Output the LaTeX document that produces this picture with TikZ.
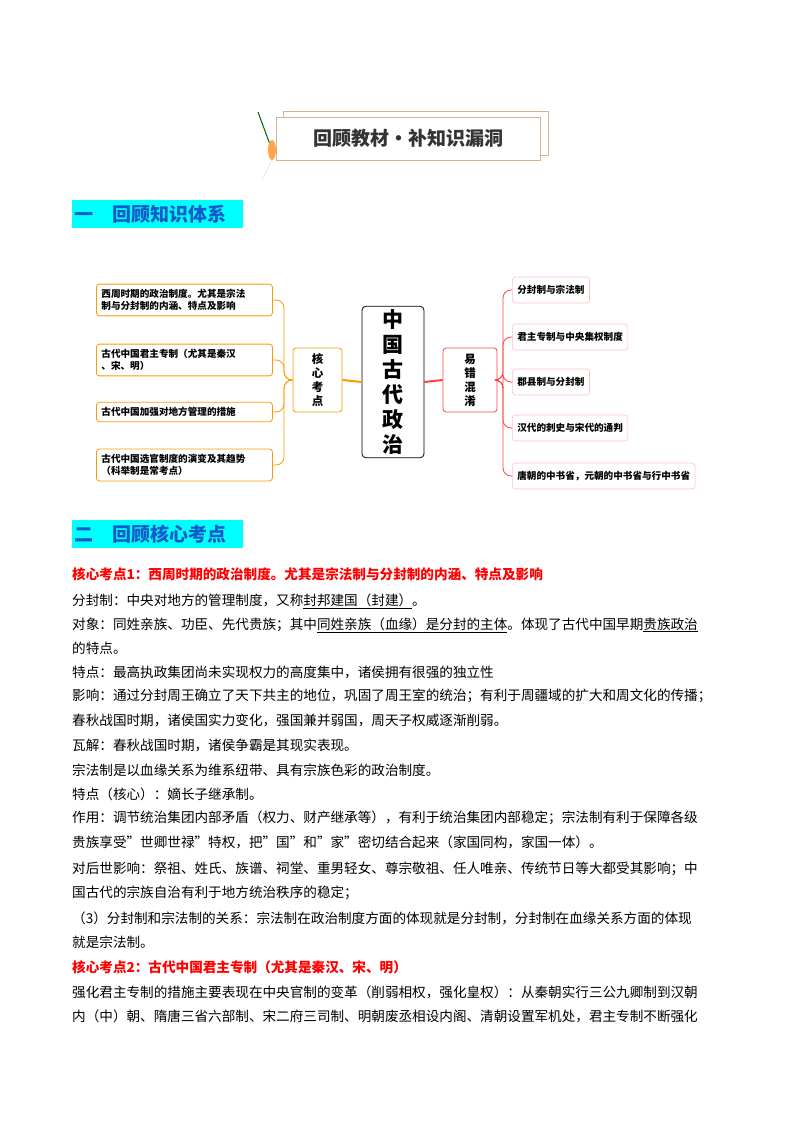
\documentclass[tikz,border=0pt]{standalone}
\usepackage{fontspec}
\setmainfont{Noto Sans CJK SC}
\definecolor{aqua}{RGB}{0,255,255}
\definecolor{secblue}{RGB}{20,90,200}
\begin{document}
\begin{tikzpicture}[x=1pt,y=-1pt,
 lbox/.style={draw=orange!80!yellow,rounded corners=3pt,line width=0.8pt,font=\fontsize{9.6}{12.5}\selectfont\bfseries,align=left,anchor=west,inner sep=5pt},
 rbox/.style={draw=red!25,rounded corners=3pt,line width=0.6pt,font=\fontsize{9.6}{11}\selectfont\bfseries,anchor=west,inner sep=5pt,minimum height=26pt},
 body/.style={anchor=west,font=\fontsize{13.6}{16}\selectfont,inner sep=0pt},
 redh/.style={anchor=west,font=\fontsize{13.6}{16}\selectfont\bfseries,text=red,inner sep=0pt},
 sec/.style={anchor=west,fill=aqua,text=secblue,font=\fontsize{19}{22}\selectfont\bfseries,inner sep=2pt,minimum height=28pt,text width=167pt},
 oline/.style={draw=orange!80!yellow,line width=0.8pt,rounded corners=8pt},
 rline/.style={draw=red!75,line width=0.8pt,rounded corners=8pt}]
\useasboundingbox (0,0) rectangle (800,1132);
% header
\draw[draw=brown!60,line width=0.8pt,fill=white] (283,111) rectangle (548,155);
\draw[draw=brown!60,line width=0.8pt,fill=white] (276,117) rectangle (540,160);
\node[font=\fontsize{19}{22}\selectfont\bfseries,text=black!80] (hdr) at (408,138) {回顾教材·补知识漏洞};
\draw[green!40!black,line width=1pt] (258,112) -- (272,150);
\fill[orange!70] (272,150) ellipse (4pt and 10pt);
\draw[brown!40] (272,160) -- (262,180);
% sections
\node[sec] (s1) at (72,214) {一\quad 回顾知识体系};
\node[sec] (s2) at (72,534) {二\quad 回顾核心考点};
% mind map
\node[draw=black,rounded corners=4pt,line width=0.8pt,minimum width=62pt,minimum height=133pt,font=\fontsize{21}{25}\selectfont\bfseries,align=center] (c) at (393,382) {中\\国\\古\\代\\政\\治};
\node[draw=orange!80!yellow,rounded corners=3pt,line width=0.8pt,minimum width=49pt,minimum height=64pt,font=\fontsize{11.5}{14}\selectfont\bfseries,align=center] (k) at (317.5,380) {核\\心\\考\\点};
\node[draw=red!75,rounded corners=3pt,line width=0.8pt,minimum width=54pt,minimum height=64pt,font=\fontsize{11.5}{14}\selectfont\bfseries,align=center] (e) at (470,380) {易\\错\\混\\淆};
\draw[orange!80!yellow,line width=2pt] (k.east) -- (c.west);
\draw[red!75,line width=2pt] (e.west) -- (c.east);
\node[lbox,text width=166pt] (l1) at (96,300) {西周时期的政治制度。尤其是宗法\\制与分封制的内涵、特点及影响};
\node[lbox,text width=166pt] (l2) at (96,360) {古代中国君主专制（尤其是秦汉\\、宋、明）};
\node[lbox,text width=166pt] (l3) at (96,412) {古代中国加强对地方管理的措施};
\node[lbox,text width=166pt] (l4) at (96,465) {古代中国选官制度的演变及其趋势\\（科举制是常考点）};
\foreach \n in {l1,l2,l3,l4}{
  \draw[oline] (k.west) -- (284,380) |- (\n.east);
}
\node[rbox] (r1) at (512,290) {分封制与宗法制};
\node[rbox] (r2) at (512,337) {君主专制与中央集权制度};
\node[rbox] (r3) at (512,382) {郡县制与分封制};
\node[rbox] (r4) at (512,428) {汉代的刺史与宋代的通判};
\node[rbox] (r5) at (512,476) {唐朝的中书省，元朝的中书省与行中书省};
\foreach \n in {r1,r2,r3,r4,r5}{
  \draw[rline] (e.east) -- (503,380) |- (\n.west);
}
% body
\node[redh] (t1) at (72,574) {核心考点1：西周时期的政治制度。尤其是宗法制与分封制的内涵、特点及影响};
\node[body] (b1) at (72,601) {分封制：中央对地方的管理制度，又称\underline{封邦建国（封建）}。};
\node[body] (b2) at (72,625) {对象：同姓亲族、功臣、先代贵族；其中\underline{同姓亲族（血缘）是分封的主体}。体现了古代中国早期\underline{贵族政治}};
\node[body] (b3) at (72,648) {的特点。};
\node[body] (b4) at (72,672) {特点：最高执政集团尚未实现权力的高度集中，诸侯拥有很强的独立性};
\node[body] (b5) at (72,696) {影响：通过分封周王确立了天下共主的地位，巩固了周王室的统治；有利于周疆域的扩大和周文化的传播；};
\node[body] (b6) at (72,720) {春秋战国时期，诸侯国实力变化，强国兼并弱国，周天子权威逐渐削弱。};
\node[body] (b7) at (72,745) {瓦解：春秋战国时期，诸侯争霸是其现实表现。};
\node[body] (b8) at (72,770) {宗法制是以血缘关系为维系纽带、具有宗族色彩的政治制度。};
\node[body] (b9) at (72,794) {特点（核心）：嫡长子继承制。};
\node[body] (b10) at (72,818) {作用：调节统治集团内部矛盾（权力、财产继承等），有利于统治集团内部稳定；宗法制有利于保障各级};
\node[body] (b11) at (72,842) {贵族享受"世卿世禄"特权，把"国"和"家"密切结合起来（家国同构，家国一体）。};
\node[body] (b12) at (72,869) {对后世影响：祭祖、姓氏、族谱、祠堂、重男轻女、尊宗敬祖、任人唯亲、传统节日等大都受其影响；中};
\node[body] (b13) at (72,893) {国古代的宗族自治有利于地方统治秩序的稳定；};
\node[body] (b14) at (72,918) {（3）分封制和宗法制的关系：宗法制在政治制度方面的体现就是分封制，分封制在血缘关系方面的体现};
\node[body] (b15) at (72,942) {就是宗法制。};
\node[redh] (t2) at (72,967) {核心考点2：古代中国君主专制（尤其是秦汉、宋、明）};
\node[body] (b16) at (72,992) {强化君主专制的措施主要表现在中央官制的变革（削弱相权，强化皇权）：从秦朝实行三公九卿制到汉朝};
\node[body] (b17) at (72,1016) {内（中）朝、隋唐三省六部制、宋二府三司制、明朝废丞相设内阁、清朝设置军机处，君主专制不断强化};
\end{tikzpicture}
\end{document}
